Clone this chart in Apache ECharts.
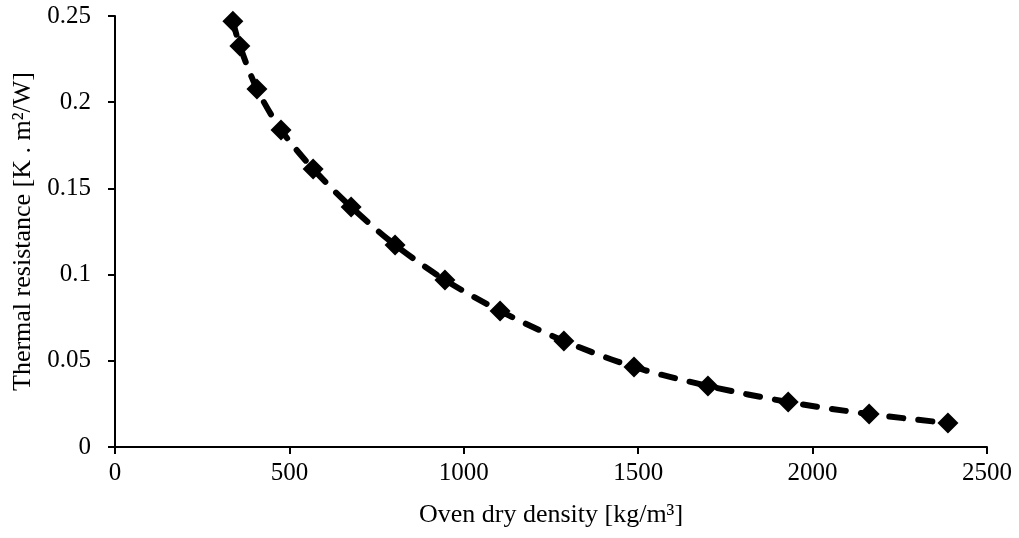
<!DOCTYPE html>
<html><head><meta charset="utf-8">
<script src="https://cdn.jsdelivr.net/npm/echarts@6/dist/echarts.min.js"></script>
<style>html,body{margin:0;padding:0;background:#fff}#c{width:1019px;height:538px}</style>
</head><body><div id="c"></div>
<script>
const density = [338, 358, 407, 476, 568, 677, 803, 946, 1104, 1287, 1488, 1700, 1930, 2162, 2388];
const resistance = [0.247, 0.2326, 0.2077, 0.1839, 0.1613, 0.1392, 0.1172, 0.0969, 0.0789, 0.0615, 0.0464, 0.0354, 0.0261, 0.0191, 0.0139];
const xTitle = 'Oven dry density [kg/m³]';
const yTitle = 'Thermal resistance [K . m²/W]';

const font = '"Liberation Serif", "Times New Roman", serif';
const chart = echarts.init(document.getElementById('c'));
chart.setOption({
  animation: false,
  backgroundColor: '#fff',
  grid: {left: 115, right: 32, top: 16, bottom: 91},
  xAxis: {
    type: 'value', min: 0, max: 2500, interval: 500,
    name: xTitle, nameLocation: 'middle', nameGap: 55,
    nameTextStyle: {fontFamily: font, fontSize: 26, color: '#000'},
    axisLine: {lineStyle: {color: '#000', width: 2}},
    axisTick: {show: true, inside: false, length: 7, lineStyle: {color: '#000', width: 2}},
    axisLabel: {fontFamily: font, fontSize: 25, color: '#000', margin: 14,
      formatter: v => String(v)},
    splitLine: {show: false}
  },
  yAxis: {
    type: 'value', min: 0, max: 0.25, interval: 0.05,
    name: yTitle, nameLocation: 'middle', nameGap: 79,
    nameTextStyle: {fontFamily: font, fontSize: 26, color: '#000'},
    axisLine: {show: true, lineStyle: {color: '#000', width: 2}},
    axisTick: {show: true, inside: false, length: 7, lineStyle: {color: '#000', width: 2}},
    axisLabel: {fontFamily: font, fontSize: 25, color: '#000', margin: 24,
      formatter: v => String(+v.toFixed(2))},
    splitLine: {show: false}
  },
  series: [{
    type: 'line',
    data: density.map((d, i) => [d, resistance[i]]),
    smooth: 0.3,
    symbol: 'diamond', symbolSize: 21,
    itemStyle: {color: '#000'},
    lineStyle: {color: '#000', width: 6, type: [14, 15], cap: 'round'}
  }]
});
</script></body></html>
